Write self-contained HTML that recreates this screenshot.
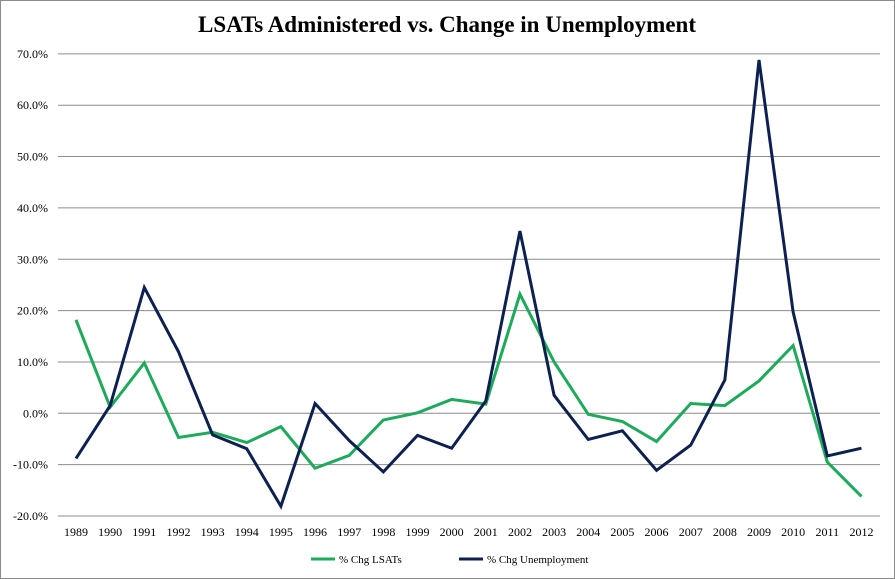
<!DOCTYPE html>
<html><head><meta charset="utf-8"><style>
html,body{margin:0;padding:0;background:#fff}
svg{display:block;font-family:"Liberation Serif",serif}
</style></head><body>
<svg id="c" width="895" height="579">
<rect x="0.5" y="0.5" width="894" height="578" fill="#fff" stroke="#8c8c8c"/>
<text x="447" y="32" text-anchor="middle" font-size="23" font-weight="bold">LSATs Administered vs. Change in Unemployment</text>
<g id="grid"></g><g id="lines"></g><g id="xl"></g>
<g>
<line x1="311" y1="559" x2="335" y2="559" stroke="#1eaa5a" stroke-width="3"/>
<text x="339" y="563" font-size="11">% Chg LSATs</text>
<line x1="459" y1="559" x2="483" y2="559" stroke="#0d2150" stroke-width="3"/>
<text x="487" y="563" font-size="11">% Chg Unemployment</text>
</g>
</svg>
<script>
const years=[1989,1990,1991,1992,1993,1994,1995,1996,1997,1998,1999,2000,2001,2002,2003,2004,2005,2006,2007,2008,2009,2010,2011,2012];
const lsats=[18.2,1.2,9.8,-4.7,-3.7,-5.7,-2.6,-10.7,-8.2,-1.3,0.1,2.7,1.8,23.2,10.0,-0.2,-1.6,-5.5,1.9,1.5,6.3,13.2,-9.5,-16.2];
const unemp=[-8.8,1.5,24.5,12.0,-4.2,-6.9,-18.1,1.9,-5.3,-11.4,-4.3,-6.8,2.4,35.5,3.5,-5.1,-3.4,-11.1,-6.2,6.5,68.8,19.7,-8.3,-6.8];
const yTicks=[70,60,50,40,30,20,10,0,-10,-20];
const NS="http://www.w3.org/2000/svg";
const X0=58,X1=880,Y0=413.3,PX=10.33/1;
function y(v){return Y0-v*5.135;}
function x(i){return 76+i*34.15;}
function mk(t,a){const e=document.createElementNS(NS,t);for(const k in a)e.setAttribute(k,a[k]);return e;}
const g=document.getElementById('grid');
yTicks.forEach(v=>{
 const l=mk('line',{x1:X0,x2:X1,y1:y(v),y2:y(v),stroke:'#8c8c8c','stroke-width':1});
 
 
 g.appendChild(l);
 const t=mk('text',{x:48,y:y(v)+4,'text-anchor':'end','font-size':12});
 
 
 t.textContent=v.toFixed(1)+'%';g.appendChild(t);
});
const xl=document.getElementById('xl');
years.forEach((yr,i)=>{
 const t=mk('text',{x:x(i),y:536,'text-anchor':'middle','font-size':12});
 
 
 t.textContent=yr;xl.appendChild(t);
});
const L=document.getElementById('lines');
[[lsats,'#1eaa5a','series-lsats'],[unemp,'#0d2150','series-unemployment']].forEach(([d,c,n])=>{
 const p=mk('polyline',{points:d.map((v,i)=>x(i)+','+y(v)).join(' '),fill:'none',stroke:c,'stroke-width':3,'stroke-linejoin':'miter'});
 
 
 L.appendChild(p);
});
</script>
</body></html>
